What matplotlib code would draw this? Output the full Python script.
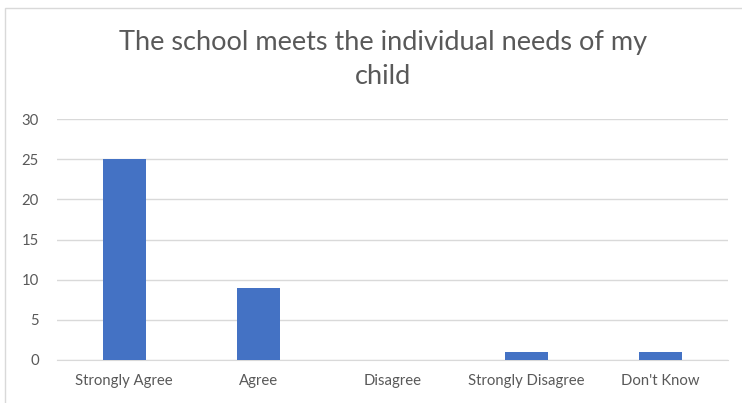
import matplotlib.pyplot as plt
from matplotlib.patches import Rectangle

categories = ['Strongly Agree', 'Agree', 'Disagree', 'Strongly Disagree', "Don't Know"]
counts = [25, 9, 0, 1, 1]
yticks = [0, 5, 10, 15, 20, 25, 30]
title = 'The school meets the individual needs of my\nchild'

plt.rcParams['font.family'] = ['Lato', 'DejaVu Sans']
grey_text = '#595959'

fig = plt.figure(figsize=(7.42, 4.03), dpi=100)
ax = fig.add_axes([0.0768, 0.1067, 0.904, 0.598])

# chart frame like Excel
fig.patches.append(Rectangle((5 / 742, -0.01), 1.0, 1 - 8 / 403 + 0.01, transform=fig.transFigure,
                             fill=False, edgecolor='#D9D9D9', linewidth=1))

x = range(len(categories))
ax.bar(x, counts, width=0.32, color='#4472C4', zorder=3)

ax.set_xlim(-0.5, len(categories) - 0.5)
ax.set_ylim(0, 30)
ax.set_yticks(yticks)
ax.set_xticks(list(x))
ax.set_xticklabels(categories)
ax.grid(axis='y', color='#D9D9D9', linewidth=1, zorder=0)
ax.tick_params(length=0, colors=grey_text, labelsize=10.7)
ax.tick_params(axis='y', pad=13)
ax.tick_params(axis='x', pad=10)
for s in ['left', 'right', 'top']:
    ax.spines[s].set_visible(False)
ax.spines['bottom'].set_color('#D9D9D9')

fig.text(0.516, 0.853, title, ha='center', va='center', fontsize=19.5,
         color=grey_text, linespacing=1.45)

fig.savefig('out.png')
